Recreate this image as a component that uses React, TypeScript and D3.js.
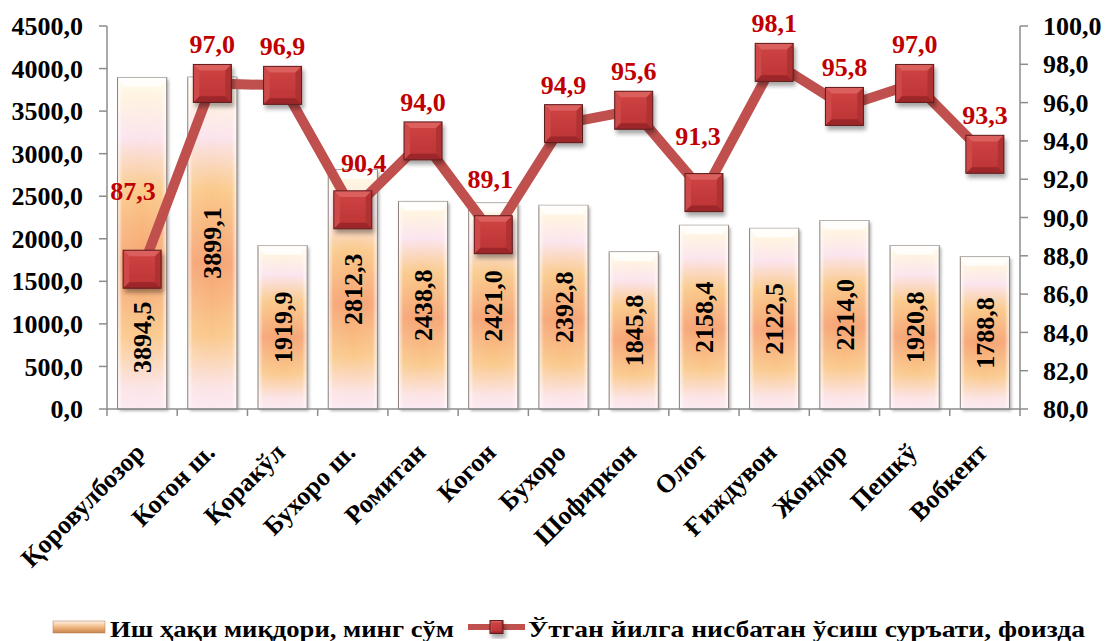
import React from 'react';
import * as d3 from 'd3';

const districts = [
  'Қоровулбозор', 'Когон ш.', 'Қоракўл', 'Бухоро ш.', 'Ромитан', 'Когон', 'Бухоро',
  'Шофиркон', 'Олот', 'Ғиждувон', 'Жондор', 'Пешкў', 'Вобкент',
];
const wages = [3894.5, 3899.1, 1919.9, 2812.3, 2438.8, 2421.0, 2392.8, 1845.8, 2158.4, 2122.5, 2214.0, 1920.8, 1788.8];
const growth = [87.3, 97.0, 96.9, 90.4, 94.0, 89.1, 94.9, 95.6, 91.3, 98.1, 95.8, 97.0, 93.3];
const leftTicks = [0, 500, 1000, 1500, 2000, 2500, 3000, 3500, 4000, 4500];
const rightTicks = [80, 82, 84, 86, 88, 90, 92, 94, 96, 98, 100];
const barSeriesName = 'Иш ҳақи миқдори, минг сўм';
const lineSeriesName = 'Ўтган йилга нисбатан ўсиш суръати, фоизда';

// hand-moved labels, like in the original workbook
const growthLabelLift = [39, 0, 0, 8, 0, 17, 0, 0, 18, 0, 0, 0, 0];
const growthLabelDx = [-9, 0, 0, 11, 0, -3, 0, 0, -6, 0, 0, 0, 0];
const wageLabelDrop = [94, 0, 0, 0, 0, 0, 0, 0, 0, 0, 0, 0, 0];

const W = 1106;
const H = 641;
const m = { left: 107, right: 1020, top: 26, bottom: 409 };
const font = "'Liberation Serif', 'Times New Roman', Times, serif";
const axisColor = '#8c8c8c';

const fmt = (v: number) => d3.format('.1f')(v).replace('.', ',');

function Marker({ x, y, s }: { x: number; y: number; s: number }) {
  const h = s / 2;
  const b = s * 0.16;
  const pts = (arr: number[][]) => arr.map((p) => `${x + p[0]},${y + p[1]}`).join(' ');
  return (
    <g filter="url(#mshadow)">
      <rect x={x - h} y={y - h} width={s} height={s} fill="url(#mfill)" />
      <polygon points={pts([[-h, -h], [h, -h], [h - b, -h + b], [-h + b, -h + b]])} fill="#dc6261" opacity={0.9} />
      <polygon points={pts([[-h, -h], [-h + b, -h + b], [-h + b, h - b], [-h, h]])} fill="#cf4b4a" opacity={0.9} />
      <polygon points={pts([[h, -h], [h, h], [h - b, h - b], [h - b, -h + b]])} fill="#ad3030" opacity={0.9} />
      <polygon points={pts([[-h, h], [h, h], [h - b, h - b], [-h + b, h - b]])} fill="#982728" opacity={0.9} />
      <rect x={x - h} y={y - h} width={s} height={s} fill="none" stroke="#5e1c1c" strokeWidth={1} />
    </g>
  );
}

export default function App() {
  const x = d3.scaleBand().domain(districts).range([m.left, m.right]).paddingInner(0.3).paddingOuter(0.15);
  const step = (m.right - m.left) / districts.length;
  const yL = d3.scaleLinear().domain([0, 4500]).range([m.bottom, m.top]);
  const yR = d3.scaleLinear().domain([80, 100]).range([m.bottom, m.top]);
  const cx = (d: string) => (x(d) as number) + x.bandwidth() / 2;

  const line = d3
    .line<number>()
    .x((_, i) => cx(districts[i]))
    .y((d) => yR(d));

  return (
    <svg
      width={W}
      height={H}
      style={{ position: 'absolute', left: 0, top: 0, background: '#fff', fontFamily: font, fontWeight: 'bold' }}
    >
      <defs>
        <linearGradient id="bfill" x1="0" y1="0" x2="0" y2="1">
          <stop offset="0" stopColor="#fffcf0" />
          <stop offset="0.06" stopColor="#fff3e0" />
          <stop offset="0.18" stopColor="#fbe4ee" />
          <stop offset="0.34" stopColor="#fac98a" />
          <stop offset="0.56" stopColor="#f6a372" />
          <stop offset="0.78" stopColor="#fac98c" />
          <stop offset="0.93" stopColor="#fce3e4" />
          <stop offset="1" stopColor="#fbe9f2" />
        </linearGradient>
        <linearGradient id="bgloss" x1="0" y1="0" x2="1" y2="0">
          <stop offset="0" stopColor="#fff" stopOpacity="0.75" />
          <stop offset="0.1" stopColor="#fff" stopOpacity="0.08" />
          <stop offset="0.5" stopColor="#fff" stopOpacity="0" />
          <stop offset="0.9" stopColor="#fff" stopOpacity="0.08" />
          <stop offset="1" stopColor="#fff" stopOpacity="0.75" />
        </linearGradient>
        <linearGradient id="mfill" x1="0" y1="0" x2="0" y2="1">
          <stop offset="0" stopColor="#d04444" />
          <stop offset="1" stopColor="#bb3334" />
        </linearGradient>
        <linearGradient id="lswatch" x1="0" y1="0" x2="0" y2="1">
          <stop offset="0" stopColor="#fdf3e6" />
          <stop offset="0.5" stopColor="#f2b983" />
          <stop offset="1" stopColor="#c8844a" />
        </linearGradient>
        <filter id="bshadow" x="-20%" y="-10%" width="150%" height="130%">
          <feDropShadow dx="2" dy="2" stdDeviation="1.5" floodColor="#000" floodOpacity="0.3" />
        </filter>
        <filter id="mshadow" x="-30%" y="-30%" width="170%" height="170%">
          <feDropShadow dx="2" dy="4" stdDeviation="2" floodColor="#000" floodOpacity="0.35" />
        </filter>
      </defs>

      {/* bars */}
      {wages.map((v, i) => {
        const bx = x(districts[i]) as number;
        const bw = x.bandwidth();
        const by = yL(v);
        const bh = yL(0) - by;
        return (
          <g key={'b' + i}>
            <rect x={bx} y={by} width={bw} height={bh} fill="url(#bfill)" filter="url(#bshadow)" />
            <rect x={bx} y={by} width={bw} height={bh} fill="url(#bgloss)" stroke="#8a7f7a" strokeWidth={1} />
            <polygon
              points={`${bx},${by} ${bx + bw},${by} ${bx + bw - 6},${by + 9} ${bx + 6},${by + 9}`}
              fill="#fff"
              opacity={0.8}
            />
          </g>
        );
      })}

      {/* axes */}
      <g stroke={axisColor} strokeWidth={1.5}>
        <line x1={m.left} x2={m.left} y1={m.top} y2={m.bottom} />
        <line x1={m.right} x2={m.right} y1={m.top} y2={m.bottom} />
        <line x1={m.left} x2={m.right} y1={m.bottom} y2={m.bottom} />
        {leftTicks.map((t) => (
          <line key={'lt' + t} x1={m.left - 8} x2={m.left} y1={yL(t)} y2={yL(t)} />
        ))}
        {rightTicks.map((t) => (
          <line key={'rt' + t} x1={m.right} x2={m.right + 8} y1={yR(t)} y2={yR(t)} />
        ))}
        {d3.range(districts.length + 1).map((i) => (
          <line key={'xt' + i} x1={m.left + i * step} x2={m.left + i * step} y1={m.bottom} y2={m.bottom + 7} />
        ))}
      </g>
      <g fontSize={26} fill="#000">
        {leftTicks.map((t) => (
          <text key={'ll' + t} x={83} y={yL(t)} dy="0.35em" textAnchor="end">{fmt(t)}</text>
        ))}
        {rightTicks.map((t) => (
          <text key={'rl' + t} x={1043} y={yR(t)} dy="0.35em">{fmt(t)}</text>
        ))}
        {districts.map((d) => (
          <text key={'xl' + d} transform={`translate(${cx(d) + 4},454) rotate(-45)`} textAnchor="end">{d}</text>
        ))}
      </g>

      {/* bar value labels */}
      <g fontSize={26} fill="#000">
        {wages.map((v, i) => {
          const lx = cx(districts[i]);
          const ly = (yL(v) + yL(0)) / 2 + wageLabelDrop[i];
          return (
            <text key={'bl' + i} transform={`translate(${lx},${ly}) rotate(-90)`} textAnchor="middle" dy="0.35em">
              {fmt(v)}
            </text>
          );
        })}
      </g>

      {/* growth line */}
      <path d={line(growth) as string} fill="none" stroke="#c0504d" strokeWidth={10} strokeLinejoin="miter" />
      {growth.map((v, i) => (
        <Marker key={'m' + i} x={cx(districts[i])} y={yR(v)} s={38} />
      ))}
      <g fontSize={26} fill="#c00000">
        {growth.map((v, i) => (
          <text key={'gl' + i} x={cx(districts[i]) + growthLabelDx[i]} y={yR(v) - 30 - growthLabelLift[i]} textAnchor="middle">
            {fmt(v)}
          </text>
        ))}
      </g>

      {/* legend */}
      <g>
        <rect x={53} y={621} width={52} height={12} fill="url(#lswatch)" stroke="#b07a50" strokeWidth={0.5} />
        <text x={110} y={637} fontSize={24} textLength={344} lengthAdjust="spacingAndGlyphs">{barSeriesName}</text>
        <line x1={468} x2={525} y1={627} y2={627} stroke="#c0504d" strokeWidth={6} />
        <Marker x={496.5} y={627} s={13} />
        <text x={528} y={637} fontSize={24} textLength={557} lengthAdjust="spacingAndGlyphs">{lineSeriesName}</text>
      </g>
    </svg>
  );
}
